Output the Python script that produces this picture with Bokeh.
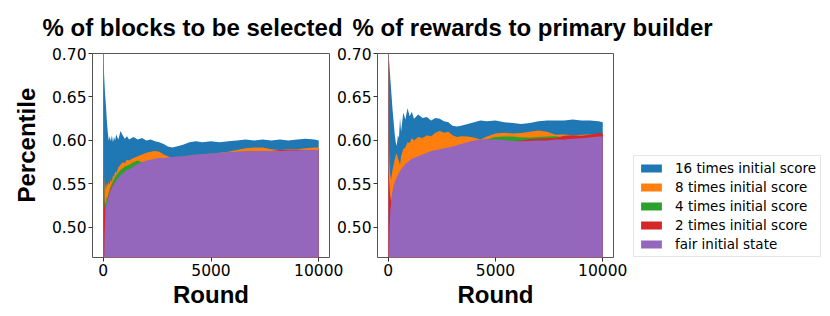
from bokeh.plotting import figure
from bokeh.layouts import row
from bokeh.models import Range1d, FixedTicker, Legend, LegendItem, PrintfTickFormatter, Title
from bokeh.embed import file_html
from bokeh.resources import INLINE

# ---------------- data ----------------
rounds = [0, 20, 40, 60, 80, 100, 130, 160, 200, 250, 300, 350, 400, 450, 500, 550, 600,
          700, 800, 900, 1000, 1100, 1200, 1400, 1600, 1800, 2000, 2200, 2400, 2600, 2800,
          3000, 3200, 3400, 3700, 4000, 4300, 4600, 5000, 5400, 5800, 6200, 6600, 7000,
          7400, 7800, 8200, 8600, 9000, 9400, 9800, 10000]

# "% of blocks to be selected"
blocks_16x = [1.0, 0.690, 0.675, 0.665, 0.655, 0.648, 0.638, 0.625, 0.612, 0.600, 0.605,
              0.599, 0.606, 0.598, 0.604, 0.600, 0.607, 0.601, 0.611, 0.606, 0.602, 0.605,
              0.601, 0.604, 0.601, 0.603, 0.600, 0.601, 0.599, 0.598, 0.596, 0.593, 0.592,
              0.593, 0.595, 0.598, 0.599, 0.598, 0.599, 0.598, 0.599, 0.600, 0.601, 0.600,
              0.601, 0.600, 0.601, 0.600, 0.601, 0.602, 0.601, 0.600]
blocks_8x = [1.0, 0.600, 0.558, 0.545, 0.538, 0.550, 0.544, 0.551, 0.548, 0.553, 0.549,
             0.556, 0.552, 0.560, 0.558, 0.565, 0.562, 0.569, 0.572, 0.575, 0.574, 0.578,
             0.577, 0.580, 0.582, 0.584, 0.586, 0.587, 0.588, 0.587, 0.584, 0.582, 0.580,
             0.580, 0.581, 0.582, 0.583, 0.584, 0.585, 0.586, 0.587, 0.589, 0.591, 0.592,
             0.592, 0.590, 0.589, 0.590, 0.590, 0.591, 0.592, 0.592]
blocks_4x = [1.0, 0.580, 0.550, 0.535, 0.525, 0.530, 0.528, 0.535, 0.534, 0.540, 0.544,
             0.548, 0.551, 0.553, 0.556, 0.558, 0.560, 0.563, 0.566, 0.568, 0.570, 0.571,
             0.572, 0.575, 0.577, 0.575, 0.576, 0.577, 0.578, 0.579, 0.579, 0.580, 0.580,
             0.581, 0.582, 0.583, 0.584, 0.584, 0.585, 0.586, 0.586, 0.587, 0.587, 0.588,
             0.588, 0.588, 0.588, 0.588, 0.588, 0.589, 0.589, 0.589]
blocks_2x = [1.0, 0.570, 0.540, 0.525, 0.520, 0.510, 0.520, 0.515, 0.533, 0.538, 0.539,
             0.546, 0.545, 0.550, 0.549, 0.553, 0.553, 0.556, 0.558, 0.560, 0.562, 0.564,
             0.565, 0.568, 0.571, 0.573, 0.575, 0.576, 0.577, 0.578, 0.578, 0.579, 0.580,
             0.580, 0.581, 0.582, 0.583, 0.584, 0.584, 0.585, 0.586, 0.586, 0.587, 0.587,
             0.588, 0.588, 0.589, 0.5895, 0.5895, 0.589, 0.589, 0.589]
blocks_fair = [1.0, 0.450, 0.460, 0.490, 0.505, 0.515, 0.522, 0.528, 0.532, 0.536, 0.540,
               0.543, 0.546, 0.548, 0.550, 0.552, 0.554, 0.557, 0.560, 0.562, 0.564, 0.566,
               0.567, 0.570, 0.573, 0.575, 0.577, 0.578, 0.579, 0.580, 0.580, 0.5805, 0.581,
               0.5815, 0.582, 0.583, 0.584, 0.5845, 0.585, 0.586, 0.5865, 0.587, 0.5875, 0.588,
               0.588, 0.588, 0.588, 0.5885, 0.5885, 0.589, 0.589, 0.589]

# "% of rewards to primary builder"
rewards_16x = [1.0, 0.700, 0.692, 0.685, 0.678, 0.670, 0.660, 0.650, 0.636, 0.622, 0.608,
               0.598, 0.594, 0.606, 0.603, 0.626, 0.610, 0.632, 0.624, 0.637, 0.628, 0.633,
               0.625, 0.630, 0.626, 0.627, 0.623, 0.626, 0.625, 0.622, 0.621, 0.617, 0.616,
               0.617, 0.619, 0.621, 0.623, 0.622, 0.623, 0.621, 0.620, 0.619, 0.620, 0.622,
               0.623, 0.623, 0.623, 0.624, 0.623, 0.623, 0.622, 0.621]
rewards_8x = [1.0, 0.620, 0.590, 0.575, 0.565, 0.560, 0.555, 0.560, 0.566, 0.572, 0.578,
              0.583, 0.585, 0.580, 0.576, 0.572, 0.582, 0.590, 0.592, 0.598, 0.597, 0.603,
              0.600, 0.604, 0.603, 0.606, 0.605, 0.609, 0.611, 0.609, 0.610, 0.606, 0.604,
              0.605, 0.6045, 0.6035, 0.601, 0.6045, 0.608, 0.609, 0.608, 0.6085, 0.610, 0.6115,
              0.610, 0.6065, 0.607, 0.606, 0.6065, 0.607, 0.6075, 0.607]
rewards_4x = [1.0, 0.450, 0.465, 0.490, 0.505, 0.515, 0.522, 0.530, 0.538, 0.545, 0.549,
              0.553, 0.556, 0.558, 0.561, 0.563, 0.565, 0.568, 0.571, 0.573, 0.575, 0.577,
              0.578, 0.580, 0.582, 0.584, 0.586, 0.587, 0.588, 0.589, 0.590, 0.591, 0.592,
              0.594, 0.596, 0.598, 0.600, 0.6015, 0.604, 0.6045, 0.6045, 0.6035, 0.6035, 0.604,
              0.6045, 0.605, 0.6035, 0.603, 0.603, 0.6035, 0.604, 0.604]
rewards_2x = [1.0, 0.570, 0.555, 0.548, 0.540, 0.535, 0.530, 0.532, 0.538, 0.545, 0.549,
              0.553, 0.556, 0.558, 0.561, 0.563, 0.565, 0.568, 0.571, 0.573, 0.575, 0.577,
              0.578, 0.580, 0.582, 0.584, 0.586, 0.587, 0.588, 0.589, 0.590, 0.591, 0.592,
              0.594, 0.596, 0.598, 0.599, 0.600, 0.600, 0.599, 0.599, 0.600, 0.6015, 0.602,
              0.6025, 0.603, 0.6055, 0.606, 0.6055, 0.6065, 0.6085, 0.608]
rewards_fair = [1.0, 0.450, 0.470, 0.495, 0.510, 0.520, 0.527, 0.535, 0.542, 0.548, 0.552,
                0.555, 0.558, 0.560, 0.563, 0.565, 0.567, 0.570, 0.573, 0.575, 0.577, 0.579,
                0.580, 0.582, 0.584, 0.586, 0.588, 0.589, 0.590, 0.591, 0.592, 0.593, 0.5945,
                0.596, 0.598, 0.600, 0.601, 0.6015, 0.601, 0.6005, 0.5995, 0.599, 0.5995, 0.600,
                0.600, 0.601, 0.601, 0.602, 0.6025, 0.6035, 0.6045, 0.6045]

series_labels = ["16 times initial score", "8 times initial score", "4 times initial score",
                 "2 times initial score", "fair initial state"]
series_colors = ["#1f77b4", "#ff7f0e", "#2ca02c", "#d62728", "#9467bd"]
x_ticks = [0, 5000, 10000]
y_ticks = [0.50, 0.55, 0.60, 0.65, 0.70]

BOLD_FONT = "Liberation Sans"
TICK_FONT = "DejaVu Sans"


def make_fig(title, series, frame_w, mb_left, mb_right, title_offset):
    p = figure(output_backend="svg", toolbar_location=None,
               frame_width=frame_w, frame_height=204,
               x_range=Range1d(-500, 10500), y_range=Range1d(0.4655, 0.70),
               min_border_left=mb_left, min_border_right=mb_right,
               min_border_top=53, min_border_bottom=52)
    p.title.text = title
    p.title.text_font = BOLD_FONT
    p.title.text_font_size = "24px"
    p.title.text_font_style = "bold"
    p.title.text_color = "black"
    p.title.align = "left"
    p.title.vertical_align = "top"
    p.title.offset = title_offset
    p.title.standoff = 22
    p.grid.visible = False
    p.outline_line_color = "#555555"
    p.outline_line_width = 1
    p.background_fill_color = "white"
    p.border_fill_color = None
    rends = []
    for vals, c in zip(series, series_colors):
        rends.append(p.varea(x=rounds, y1=0.40, y2=vals, fill_color=c, fill_alpha=1.0))
    for ax in (p.xaxis[0], p.yaxis[0]):
        ax.axis_line_color = None
        ax.major_tick_out = 4
        ax.major_tick_in = 0
        ax.major_tick_line_color = "#333333"
        ax.minor_tick_line_color = None
        ax.major_label_text_font = TICK_FONT
        ax.major_label_text_font_size = "15.5px"
        ax.major_label_text_color = "black"
        ax.major_label_standoff = 2
        ax.axis_label_text_font = BOLD_FONT
        ax.axis_label_text_font_size = "24px"
        ax.axis_label_text_font_style = "bold"
        ax.axis_label_text_color = "black"
    p.xaxis.ticker = FixedTicker(ticks=x_ticks)
    p.yaxis.ticker = FixedTicker(ticks=y_ticks)
    p.yaxis.formatter = PrintfTickFormatter(format="%.2f")
    p.xaxis.axis_label = "Round"
    p.xaxis.axis_label_standoff = 2
    return p, rends


p1, _ = make_fig("% of blocks to be selected",
                 [blocks_16x, blocks_8x, blocks_4x, blocks_2x, blocks_fair],
                 237, 92, 16, -50)
ylab = Title(text="Percentile", align="left", offset=55, standoff=18,
             text_font=BOLD_FONT, text_font_size="24px", text_font_style="bold",
             text_color="black")
p1.add_layout(ylab, "left")

p2, rends2 = make_fig("% of rewards to primary builder",
                      [rewards_16x, rewards_8x, rewards_4x, rewards_2x, rewards_fair],
                      236, 48, 207, -25)
p2.margin = (0, 0, 0, -16)

legend = Legend(items=[LegendItem(label=l, renderers=[r]) for l, r in zip(series_labels, rends2)],
                location=(20, 0), margin=0, padding=4, spacing=3,
                glyph_width=26, glyph_height=10, label_height=16, label_standoff=11,
                label_text_font=TICK_FONT, label_text_font_size="13.5px",
                label_text_color="black",
                border_line_color="#cccccc", border_line_width=1,
                background_fill_color="white", background_fill_alpha=1.0)
p2.add_layout(legend, "right")

layout = row(p1, p2)
open("out.html", "w").write(file_html(layout, INLINE))
